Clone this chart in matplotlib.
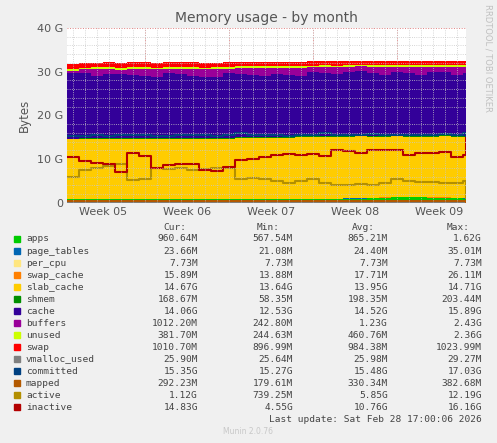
import numpy as np
import matplotlib
matplotlib.use("Agg")
from matplotlib import pyplot as plt

# days since start of the graph (one sample per day, plus final point)
days = list(range(34)) + [33.25]

apps = [0.85]*20 + [0.9, 0.9, 0.95, 1.0, 1.0, 1.1, 1.2, 1.3, 1.3, 1.3, 1.2, 1.2, 1.1, 1.0, 0.96]
page_tables = [0.024]*35
per_cpu = [0.0077]*35
swap_cache = [0.018]*35
slab_cache = [13.6, 13.7, 13.7, 13.8, 13.7, 13.8, 13.8, 13.7, 13.8, 13.8, 13.8, 13.7, 13.8, 13.8,
              13.9, 13.9, 14.0, 14.0, 14.0, 14.1, 14.1, 14.2, 14.1, 14.1, 14.2, 14.0, 13.9, 13.9,
              13.8, 13.8, 13.9, 14.0, 14.0, 14.1, 14.67]
shmem = [0.2]*34 + [0.17]
cache = [15.0, 14.8, 14.3, 14.6, 14.6, 14.4, 14.2, 14.0, 14.8, 14.5, 14.2, 14.0, 13.9, 14.7,
         14.5, 14.3, 14.0, 14.4, 14.1, 13.8, 14.6, 14.3, 14.2, 14.6, 14.8, 14.4, 14.0, 14.5,
         14.3, 14.0, 14.5, 14.4, 14.0, 14.3, 14.06]
buffers = [0.5, 0.9, 1.5, 1.2, 1.0, 1.4, 1.6, 1.8, 1.0, 1.3, 1.6, 1.8, 1.9, 1.1,
           1.3, 1.5, 1.8, 1.4, 1.6, 1.9, 1.2, 1.4, 1.5, 1.2, 1.0, 1.3, 1.7, 1.2,
           1.4, 1.7, 1.2, 1.3, 1.7, 1.4, 1.01]
unused = [0.5, 0.4, 0.4, 0.4, 0.5, 0.4, 0.4, 0.3, 0.4, 0.4, 0.4, 0.3, 0.3, 0.4,
          0.4, 0.4, 0.3, 0.4, 0.4, 0.4, 0.3, 0.4, 0.4, 0.3, 0.3, 0.4, 0.4, 0.4,
          0.4, 0.4, 0.4, 0.4, 0.4, 0.4, 0.38]
swap = [1.0]*21 + [0.9, 1.0, 0.95, 0.95, 0.95, 0.95, 0.95, 0.95, 0.95, 0.95, 0.95, 0.95, 1.0, 1.0]
vmalloc_used = [0.026]*35
committed = [15.4, 15.4, 15.5, 15.4, 15.5, 15.6, 15.5, 15.4, 15.4, 15.5, 15.6, 15.5, 15.4, 15.5,
             16.0, 15.6, 15.5, 15.5, 15.4, 15.5, 15.6, 15.9, 15.5, 15.5, 15.6, 15.7, 15.5, 15.6,
             15.5, 15.6, 15.5, 15.7, 15.6, 15.9, 15.35]
mapped = [0.33]*34 + [0.29]
active = [6.0, 7.5, 8.0, 8.5, 9.0, 5.2, 5.5, 8.0, 7.8, 8.0, 7.5, 7.8, 8.0, 8.0,
          5.5, 5.8, 5.5, 5.0, 4.6, 5.0, 5.5, 4.5, 4.0, 4.2, 4.3, 4.2, 4.5, 5.5,
          5.0, 4.7, 4.8, 4.6, 4.6, 5.0, 1.12]
inactive = [10.6, 9.5, 9.1, 8.8, 7.0, 11.3, 10.8, 7.9, 8.6, 9.0, 8.9, 7.6, 7.2, 8.2,
            9.7, 10.1, 10.6, 10.9, 11.1, 10.9, 11.2, 10.8, 12.0, 11.8, 11.5, 12.0, 12.2, 12.0,
            11.0, 11.3, 11.5, 11.6, 10.5, 11.0, 14.83]

week_labels = ["Week 05", "Week 06", "Week 07", "Week 08", "Week 09"]
week_pos = [3.0, 10.0, 17.0, 24.0, 31.0]

legend_rows = [
    ("apps", "#00CC00", "960.64M", "567.54M", "865.21M", "1.62G"),
    ("page_tables", "#0066B3", "23.66M", "21.08M", "24.40M", "35.01M"),
    ("per_cpu", "#FFE680", "7.73M", "7.73M", "7.73M", "7.73M"),
    ("swap_cache", "#FF8000", "15.89M", "13.88M", "17.71M", "26.11M"),
    ("slab_cache", "#FFCC00", "14.67G", "13.64G", "13.95G", "14.71G"),
    ("shmem", "#008F00", "168.67M", "58.35M", "198.35M", "203.44M"),
    ("cache", "#330099", "14.06G", "12.53G", "14.52G", "15.89G"),
    ("buffers", "#990099", "1012.20M", "242.80M", "1.23G", "2.43G"),
    ("unused", "#CCFF00", "381.70M", "244.63M", "460.76M", "2.36G"),
    ("swap", "#FF0000", "1010.70M", "896.99M", "984.38M", "1023.99M"),
    ("vmalloc_used", "#808080", "25.90M", "25.64M", "25.98M", "29.27M"),
    ("committed", "#004080", "15.35G", "15.27G", "15.48G", "17.03G"),
    ("mapped", "#B35900", "292.23M", "179.61M", "330.34M", "382.68M"),
    ("active", "#B38F00", "1.12G", "739.25M", "5.85G", "12.19G"),
    ("inactive", "#B30000", "14.83G", "4.55G", "10.76G", "16.16G"),
]
colors = {r[0]: r[1] for r in legend_rows}

fig = plt.figure(figsize=(4.97, 4.43), dpi=100, facecolor="#F0F0F0")
ax = fig.add_axes([0.135, 0.542, 0.803, 0.395])
ax.set_facecolor("white")

stack_names = ["apps", "page_tables", "per_cpu", "swap_cache", "slab_cache", "shmem",
               "cache", "buffers", "unused", "swap"]
stack_data = [apps, page_tables, per_cpu, swap_cache, slab_cache, shmem,
              cache, buffers, unused, swap]
ax.stackplot(days, stack_data, colors=[colors[n] for n in stack_names], linewidth=0, step="post")

for name, vals in [("vmalloc_used", vmalloc_used), ("committed", committed), ("mapped", mapped),
                   ("active", active), ("inactive", inactive)]:
    ax.step(days, vals, where="post", color=colors[name], linewidth=1.5)

ax.set_xlim(0, 33.25)
ax.set_ylim(0, 40)
ax.set_yticks([0, 10, 20, 30, 40])
ax.set_yticklabels(["0", "10 G", "20 G", "30 G", "40 G"])
ax.set_yticks(np.arange(0, 40, 2), minor=True)
ax.set_xticks(week_pos)
ax.set_xticklabels(week_labels)
ax.set_xticks(np.arange(0.5, 33.25, 1), minor=True)
ax.grid(which="minor", color="#C8C8C8", linestyle=":", linewidth=0.6)
for v in [6.5, 13.5, 20.5, 27.5]:
    ax.axvline(v, color="#E08080", linestyle=":", linewidth=0.7, zorder=0.5)
for v in [10, 20, 30, 40]:
    ax.axhline(v, color="#E08080", linestyle=":", linewidth=0.7, zorder=0.5)
ax.set_axisbelow(False)
ax.tick_params(which="both", length=0, labelsize=8, colors="#555555", pad=3)
for s in ax.spines.values():
    s.set_visible(False)
ax.set_ylabel("Bytes", fontsize=8.5, color="#555555")
ax.set_title("Memory usage - by month", fontsize=10, color="#555555", pad=4)

fig.text(0.982, 0.99, "RRDTOOL / TOBI OETIKER", rotation=270, fontsize=6,
         color="#C0C0C0", ha="center", va="top")

mono = dict(family="DejaVu Sans Mono", fontsize=6.8, color="#444444")
W, H = 497, 443
def fx(px):
    return px / W
def fy(py):
    return 1 - py / H

hy = 227
for xpx, txt in [(186, "Cur:"), (280, "Min:"), (375, "Avg:"), (470, "Max:")]:
    fig.text(fx(xpx), fy(hy), txt, ha="right", va="center", **mono)
for i, (name, col, cur, mn, avg, mx) in enumerate(legend_rows):
    y = hy + 12 * (i + 1)
    fig.patches.append(plt.Rectangle((fx(14), fy(y) - 3 / H), 6 / W, 6 / H,
                                     transform=fig.transFigure, color=col))
    fig.text(fx(26), fy(y), name, ha="left", va="center", **mono)
    for xpx, txt in [(198, cur), (293, mn), (388, avg), (482, mx)]:
        fig.text(fx(xpx), fy(y), txt, ha="right", va="center", **mono)

fig.text(fx(482), fy(hy + 12 * 16), "Last update: Sat Feb 28 17:00:06 2026",
         ha="right", va="center", **mono)
fig.text(fx(248), fy(432), "Munin 2.0.76", ha="center", va="center", fontsize=5.5, color="#C8C8C8")

fig.savefig("out.png", dpi=100, facecolor=fig.get_facecolor())
